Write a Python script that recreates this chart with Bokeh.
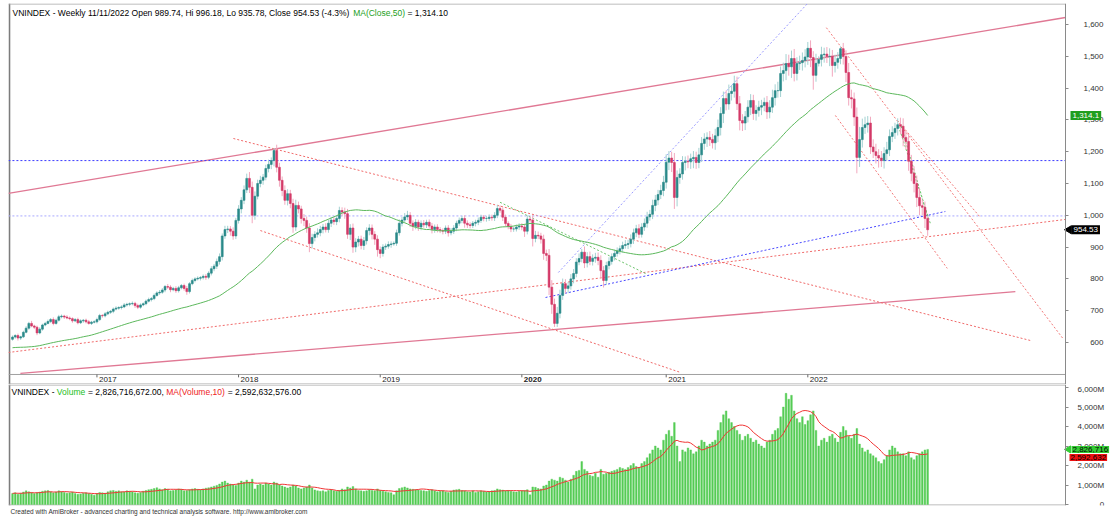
import numpy as np
import pandas as pd
from bokeh.plotting import figure
from bokeh.layouts import column
from bokeh.models import Range1d, FixedTicker, Label, ColumnDataSource, Title
from bokeh.embed import file_html
from bokeh.resources import INLINE
from bokeh.core.properties import value

FONT = "Liberation Sans"

# ---------------- DATA (weekly VNINDEX, bars end on Fridays from 2016-06-03) ----------------
pre_closes = [585, 595, 605, 620, 630, 622, 625, 610, 565, 575, 560, 560, 570, 565, 570, 580, 595,
              605, 600, 610, 600, 605, 590, 580, 565, 575, 580, 579, 560, 545, 543, 546, 550, 550,
              560, 558, 565, 562, 570, 572, 575, 585, 595, 590, 595, 592, 605, 612, 610]
pre_volumes = [520, 560, 600, 580, 540, 560, 600, 620, 580]

closes_2016 = [617, 622, 614, 618, 632, 645, 660, 652, 648, 630, 642, 655, 660, 666, 672, 660, 670, 681,
               683, 680, 677, 675, 668, 672, 662, 668, 670, 665, 660, 664, 665]
closes_2017 = [672, 685, 684, 690, 695, 698, 705, 708, 710, 712, 718, 720, 722, 723, 716, 711, 718, 722,
               730, 735, 738, 748, 756, 758, 765, 776, 774, 766, 770, 763, 772, 779, 770, 760, 785, 795,
               800, 802, 804, 808, 805, 818, 832, 840, 855, 870, 935, 955, 957, 950, 935, 984]
closes_2018 = [1020, 1047, 1080, 1116, 1088, 1000, 1060, 1100, 1110, 1120, 1147, 1160, 1172, 1204, 1151,
               1110, 1078, 1047, 1068, 1037, 963, 1031, 1020, 990, 984, 960, 911, 930, 940, 945, 955, 963,
               955, 975, 985, 980, 990, 1015, 1010, 1005, 940, 960, 900, 916, 925, 905, 920, 952, 960,
               940, 925, 892]
closes_2019 = [880, 900, 903, 908, 910, 912, 945, 975, 985, 995, 1000, 975, 965, 978, 963, 975, 970, 978,
               966, 955, 963, 955, 952, 950, 960, 945, 950, 960, 975, 984, 990, 975, 970, 968, 975, 978,
               984, 994, 990, 990, 994, 992, 1000, 1021, 1016, 994, 974, 965, 957, 957, 963, 966]
closes_2020 = [963, 950, 988, 985, 927, 937, 935, 925, 880, 874, 774, 720, 660, 692, 748, 785, 770, 778,
               800, 817, 853, 864, 884, 850, 870, 855, 865, 868, 858, 826, 795, 842, 855, 870, 880, 888,
               895, 905, 908, 911, 925, 945, 958, 940, 963, 975, 995, 1003, 1031, 1048, 1065, 1078]
closes_2021 = [1104, 1167, 1180, 1166, 1056, 1119, 1130, 1166, 1170, 1168, 1178, 1182, 1166, 1190, 1226,
               1240, 1245, 1238, 1228, 1250, 1276, 1320, 1367, 1350, 1383, 1390, 1414, 1351, 1298, 1290,
               1310, 1340, 1361, 1320, 1330, 1340, 1345, 1355, 1325, 1340, 1370, 1392, 1392, 1446, 1455,
               1477, 1467, 1493, 1446, 1477, 1480, 1487, 1498]
closes_2022 = [1525, 1496, 1440, 1478, 1490, 1505, 1507, 1499, 1500, 1471, 1481, 1493, 1524, 1499, 1449,
               1370, 1366, 1309, 1182, 1238, 1276, 1285, 1290, 1215, 1200, 1188, 1180, 1172, 1194, 1206,
               1248, 1260, 1273, 1285, 1280, 1245, 1232, 1170, 1132, 1100, 1056, 1030, 1025, 990, 954.53]

# upper / lower shadow lengths (index points) beyond the candle body
wick_hi_2016 = [5, 4, 6, 3, 5, 6, 5, 8, 4, 5, 6, 4, 5, 6, 5, 7, 5, 6, 5, 4, 6, 5, 4, 5, 6, 5, 4, 5, 6, 4, 5]
wick_lo_2016 = [4, 5, 8, 6, 4, 3, 5, 4, 6, 7, 4, 5, 4, 3, 5, 6, 4, 4, 5, 6, 4, 5, 6, 4, 5, 4, 6, 5, 4, 5, 4]
wick_hi_2017 = [6, 5, 4, 6, 5, 4, 5, 6, 4, 5, 6, 5, 4, 6, 5, 6, 5, 4, 5, 6, 5, 6, 5, 7, 6, 5, 8, 6, 5, 7,
                6, 5, 6, 8, 5, 6, 5, 6, 5, 6, 7, 6, 8, 7, 9, 10, 8, 12, 10, 9, 12, 8]
wick_lo_2017 = [5, 4, 6, 5, 4, 5, 6, 4, 5, 6, 4, 5, 6, 5, 7, 6, 5, 4, 5, 4, 6, 5, 4, 6, 5, 7, 6, 8, 5, 7,
                6, 5, 7, 10, 6, 5, 6, 5, 7, 6, 8, 6, 7, 8, 9, 10, 12, 9, 11, 14, 12, 10]
wick_hi_2018 = [12, 10, 14, 15, 20, 18, 15, 12, 14, 10, 12, 15, 10, 7, 18, 14, 12, 16, 14, 12, 15, 18, 12,
                10, 14, 12, 15, 12, 10, 14, 12, 10, 12, 11, 10, 9, 10, 12, 10, 14, 15, 12, 14, 12, 10, 11,
                12, 10, 12, 11, 10, 12]
wick_lo_2018 = [10, 14, 12, 10, 18, 25, 14, 10, 12, 14, 10, 12, 15, 18, 16, 20, 18, 14, 16, 15, 18, 12, 14,
                16, 18, 15, 27, 15, 12, 10, 11, 12, 9, 10, 12, 10, 11, 12, 13, 16, 14, 18, 18, 16, 14, 12,
                14, 12, 15, 16, 18, 22]
wick_hi_2019 = [10, 9, 8, 10, 8, 6, 10, 12, 10, 12, 14, 10, 9, 10, 8, 9, 10, 8, 9, 10, 8, 9, 8, 7, 8, 9,
                10, 9, 8, 9, 8, 10, 9, 8, 7, 8, 9, 8, 7, 8, 9, 8, 10, 12, 10, 9, 8, 7, 8, 7, 8, 9]
wick_lo_2019 = [15, 10, 9, 8, 10, 6, 8, 9, 10, 8, 10, 12, 14, 9, 12, 10, 9, 10, 8, 12, 10, 9, 8, 10, 9, 12,
                8, 9, 10, 8, 9, 14, 10, 9, 8, 10, 9, 8, 9, 10, 8, 9, 10, 9, 8, 12, 10, 9, 10, 9, 8, 9]
wick_hi_2020 = [9, 10, 12, 8, 15, 14, 12, 10, 14, 12, 20, 22, 18, 20, 18, 16, 14, 12, 15, 14, 12, 16, 10,
                18, 14, 16, 12, 14, 15, 16, 14, 12, 13, 10, 12, 11, 10, 12, 14, 12, 15, 13, 12, 14, 12, 15,
                16, 14, 18, 16, 15, 18]
wick_lo_2020 = [10, 18, 10, 8, 25, 12, 10, 14, 20, 18, 25, 30, 11, 11, 16, 14, 16, 15, 12, 14, 12, 10, 12,
                16, 14, 12, 13, 14, 15, 20, 22, 14, 12, 10, 12, 10, 11, 12, 10, 14, 12, 15, 14, 12, 10, 12,
                14, 12, 15, 18, 16, 14]
wick_hi_2021 = [20, 25, 22, 20, 30, 22, 18, 20, 15, 18, 16, 20, 18, 22, 20, 18, 16, 20, 18, 22, 25, 20, 22,
                25, 28, 20, 25, 22, 24, 20, 18, 22, 20, 18, 16, 20, 18, 15, 20, 22, 25, 20, 28, 22, 25, 30,
                28, 25, 30, 20, 22, 25, 24]
wick_lo_2021 = [18, 20, 25, 30, 36, 28, 20, 18, 25, 20, 22, 30, 20, 18, 22, 20, 25, 20, 18, 22, 20, 25, 30,
                20, 18, 22, 20, 20, 31, 25, 22, 18, 25, 20, 22, 20, 25, 18, 22, 20, 18, 25, 22, 20, 25, 30,
                28, 35, 25, 22, 20, 25, 22]
wick_hi_2022 = [20, 25, 20, 30, 10, 25, 20, 22, 25, 20, 24, 20, 7, 18, 20, 30, 25, 20, 30, 40, 28, 25, 22,
                20, 24, 25, 20, 22, 20, 25, 22, 20, 18, 20, 22, 25, 20, 24, 20, 22, 25, 30, 20, 18, 6]
wick_lo_2022 = [25, 30, 45, 20, 10, 22, 25, 20, 30, 35, 22, 20, 18, 25, 30, 25, 30, 28, 50, 30, 25, 20, 25,
                22, 20, 25, 30, 20, 25, 22, 20, 18, 20, 22, 25, 28, 25, 30, 25, 28, 30, 30, 25, 30, 19]

# weekly volume, millions of shares
vol_2016 = [560, 600, 520, 580, 640, 700, 650, 620, 560, 600, 640, 680, 700, 720, 650, 600, 640, 700, 660,
            620, 580, 600, 640, 560, 520, 540, 580, 600, 560, 520, 480]
vol_2017 = [560, 620, 600, 580, 650, 700, 720, 680, 700, 650, 640, 700, 680, 660, 600, 580, 620, 680, 720,
            760, 780, 820, 860, 800, 760, 820, 780, 700, 720, 740, 800, 780, 700, 720, 760, 800, 820, 780,
            760, 800, 840, 860, 900, 940, 980, 1050, 1150, 1200, 1100, 1050, 1000, 980]
vol_2018 = [1100, 1200, 1150, 1250, 1150, 1300, 800, 1000, 1050, 1000, 1100, 1050, 1000, 1150, 1100, 1000,
            950, 900, 850, 900, 1000, 950, 850, 800, 850, 900, 1000, 850, 750, 700, 680, 700, 650, 720, 760,
            700, 680, 720, 800, 760, 900, 850, 920, 800, 720, 700, 680, 700, 760, 720, 700, 800]
vol_2019 = [720, 680, 650, 620, 600, 500, 700, 820, 860, 900, 850, 800, 780, 760, 740, 720, 700, 680, 720,
            760, 700, 650, 680, 700, 650, 620, 680, 740, 760, 780, 720, 700, 660, 640, 700, 620, 660, 700,
            680, 640, 660, 700, 720, 800, 760, 740, 700, 720, 680, 650, 640, 680]
vol_2020 = [700, 720, 760, 500, 900, 880, 820, 800, 950, 1000, 1200, 1300, 1250, 1200, 1400, 1350, 1250,
            1150, 1300, 1500, 1700, 1750, 2200, 1800, 1700, 1500, 1450, 1600, 1400, 1800, 1550, 1600, 1650,
            1700, 1750, 1800, 1900, 1850, 1800, 1900, 2000, 2100, 1950, 1900, 2100, 2200, 2400, 2600, 2800,
            3000, 2900, 2800]
vol_2021 = [3300, 3600, 3800, 3500, 4200, 3000, 2200, 2800, 2700, 2900, 2800, 2600, 2700, 3000, 3300, 3200,
            3000, 3100, 3200, 3300, 3800, 4200, 4600, 4800, 4400, 4200, 4000, 3800, 3600, 3300, 3500, 3600,
            3400, 3200, 3300, 3100, 3000, 2900, 3200, 3300, 3600, 3800, 3900, 4500, 5000, 5700, 5400, 5600,
            4800, 4400, 4200, 4500, 4100]
vol_2022 = [4300, 4600, 4800, 3800, 3000, 3300, 3400, 3200, 3500, 3600, 3400, 3200, 3700, 4000, 3800, 3500,
            3400, 3600, 3900, 3100, 2900, 2700, 2800, 2600, 2500, 2400, 2200, 2100, 2300, 2500, 2800, 3000,
            2900, 2700, 2600, 2600, 2500, 2700, 2400, 2300, 2500, 2600, 2700, 2800, 2826.7]

price_ticks = [600, 700, 800, 900, 1000, 1100, 1200, 1300, 1400, 1500, 1600]
volume_ticks = [0, 1000, 2000, 3000, 4000, 5000, 6000]

title_price = [("VNINDEX - Weekly 11/11/2022 Open 989.74, Hi 996.18, Lo 935.78, Close 954.53 (-4.3%) ", "#000000"),
               ("MA(Close,50)", "#22a022"), (" = 1,314.10", "#000000")]
title_volume = [("VNINDEX - ", "#000000"), ("Volume", "#22c022"), (" = 2,826,716,672.00, ", "#000000"),
                ("MA(Volume,10)", "#ee2222"), (" = 2,592,632,576.00", "#000000")]
footer = "Created with AmiBroker - advanced charting and technical analysis software. http://www.amibroker.com"
ma_tag_text = "1,314.1"
close_tag_text = "954.53"
vol_tag_text = "2,826,716"
volma_tag_text = "2,592,632"

# trendlines drawn on the chart: (bar0, price0, bar1, price1, colour, dash, width)
trend_lines = [
    (-1.5, 1069, 386.6, 1622, "#e07894", "solid", 1.3),
    (2.9, 503, 368.2, 760, "#e07894", "solid", 1.3),
    (-1.5, 568.6, 386.6, 987, "#f06a6a", "2 2", 1),
    (81.1, 1241.5, 373.7, 606.3, "#f06a6a", "2 2", 1),
    (91.0, 952, 245.2, 506, "#f06a6a", "2 2", 1),
    (-1.5, 1172, 386.6, 1172, "#3a3aff", "2 2", 1),
    (-1.5, 998, 386.6, 998, "#a8a8ff", "2 2", 1),
    (195.7, 741.5, 342.5, 1012, "#4a4aff", "2 2", 1),
    (200.4, 820, 292.0, 1667, "#9a9aff", "2 2", 1),
    (298.8, 1590, 385.8, 611, "#f27a7a", "2 2", 1),
    (302.1, 1314, 343.2, 833, "#f27a7a", "2 2", 1),
    (324.9, 1298, 355.0, 997, "#f27a7a", "2 2", 1),
    (179.0, 1041, 232.4, 817, "#6cc46c", "2 2", 1),
    (325.3, 1280, 337.0, 974, "#6cc46c", "2 2", 1),
    (326.3, 1280, 336.2, 990, "#6cc46c", "2 2", 1),
]

# ---------------- derived series ----------------
closes = closes_2016 + closes_2017 + closes_2018 + closes_2019 + closes_2020 + closes_2021 + closes_2022
wick_hi = wick_hi_2016 + wick_hi_2017 + wick_hi_2018 + wick_hi_2019 + wick_hi_2020 + wick_hi_2021 + wick_hi_2022
wick_lo = wick_lo_2016 + wick_lo_2017 + wick_lo_2018 + wick_lo_2019 + wick_lo_2020 + wick_lo_2021 + wick_lo_2022
volumes = vol_2016 + vol_2017 + vol_2018 + vol_2019 + vol_2020 + vol_2021 + vol_2022
N = len(closes)

idx = np.arange(N, dtype=float)
c = np.array(closes, float)
o = np.concatenate([[pre_closes[-1]], c[:-1]])
top = np.maximum(o, c)
bot = np.minimum(o, c)
hi = top + np.array(wick_hi[:N], float)
lo = bot - np.array(wick_lo[:N], float)
ma50 = pd.Series(pre_closes + closes, dtype=float).rolling(50).mean().values[len(pre_closes):]
vol = np.array(volumes[:N], float)
ma10 = pd.Series(pre_volumes + volumes[:N], dtype=float).rolling(10).mean().values[len(pre_volumes):]

bar_end = pd.date_range("2016-06-03", periods=N, freq="W-FRI")
last_trade = bar_end - pd.Timedelta(days=1)
years = last_trade.year
year_idx = [i for i in range(1, N) if years[i] != years[i - 1]]
year_lbl = [str(years[i]) for i in year_idx]

up = c >= o
body_col = np.where(up, "#2a8a8a", "#d43a68")
wick_col = np.where(up, "#a3d1d1", "#f2a8be")

# ---------------- geometry of the panes ----------------
PX_PER_BAR = 2.7237
X0 = -1.47
AXIS_X = 386.6                      # where the value axis sits
X1 = X0 + 1109 / PX_PER_BAR          # frame runs to the right edge of the page
P_LO, P_HI = 467.9, 1666.0
STRIP_Y = 499.4                      # price level of the time-axis line
V_LO, V_HI = -51, 6154

# ---------------- text helpers ----------------
CW = {' ': 278, ',': 278, '.': 278, '-': 333, '(': 333, ')': 333, '=': 584, '%': 889, '/': 278, ':': 278,
      'A': 667, 'C': 722, 'D': 722, 'E': 667, 'H': 722, 'I': 278, 'L': 556, 'M': 833, 'N': 722, 'O': 778,
      'V': 667, 'W': 944, 'X': 667, 'a': 556, 'e': 556, 'i': 222, 'k': 500, 'l': 222, 'm': 833, 'n': 556,
      'o': 556, 'p': 556, 's': 500, 'u': 556, 'y': 500, 'h': 556, 'c': 500, 't': 278, 'r': 333, 'w': 722,
      'g': 556, 'd': 556, 'v': 500, 'f': 278, 'b': 556}


def text_w(s, size):
    return sum(CW.get(ch, 556) for ch in s) * size / 1000.0


def add_segments(p, segs, x0, y, size):
    x = x0
    for txt, col in segs:
        core = txt.strip(' ')
        x += text_w(txt[:len(txt) - len(txt.lstrip(' '))], size)
        p.add_layout(Label(x=x, y=y, x_units="screen", y_units="screen", text=core, text_color=col,
                           text_font=FONT, text_font_size=f"{size}px", text_baseline="middle"))
        x += text_w(core, size) + text_w(txt[len(txt.rstrip(' ')):], size)


def style_axis(a, ticks, overrides, standoff):
    a.ticker = FixedTicker(ticks=ticks)
    a.major_label_overrides = overrides
    a.fixed_location = AXIS_X
    a.major_tick_out = 3
    a.major_tick_in = 0
    a.minor_tick_out = 0
    a.minor_tick_in = 0
    a.major_label_standoff = standoff
    a.axis_line_color = "#8a8a8a"
    a.major_tick_line_color = "#8a8a8a"
    a.major_label_text_font = FONT
    a.major_label_text_font_size = "8px"
    a.major_label_text_color = "#333333"


def pane_border(p, ylo, yhi, dy):
    bx = X0 + 0.9 / PX_PER_BAR
    p.line([bx, bx], [ylo, yhi], line_color="#7c7c7c", line_width=1.8)
    p.line([X0, AXIS_X], [yhi - dy, yhi - dy], line_color="#a8a8a8", line_width=1)
    p.line([X0, AXIS_X], [ylo + dy, ylo + dy], line_color="#a8a8a8", line_width=1)


FS, PS = "\u2007", "\u2008"
TITLE_PX = 8.5

# ---------------- price pane ----------------
X_RANGE = Range1d(X0, X1)
p1 = figure(width=1117, height=384, x_range=X_RANGE, y_range=Range1d(P_LO, P_HI),
            output_backend="svg", toolbar_location=None, x_axis_location=None, y_axis_location="right",
            min_border_left=8, min_border_right=0, min_border_top=3, min_border_bottom=0)
p1.grid.visible = False
p1.outline_line_color = None
p1.background_fill_color = "white"
p1.border_fill_color = "white"
style_axis(p1.yaxis[0], price_ticks,
           {t: (f"{t:,}" if t >= 1000 else FS + PS + str(t)) for t in price_ticks}, 15)
pane_border(p1, P_LO, P_HI, 0.5 / 0.318)

# time-axis strip line
p1.line([X0, AXIS_X], [STRIP_Y, STRIP_Y], line_color="#a0a0a0", line_width=1)

for x0, y0, x1, y1, col, dash, w in trend_lines:
    p1.line([x0, x1], [y0, y1], line_color=col, line_dash=dash, line_width=w)

src = ColumnDataSource(dict(x=idx, top=top, bot=bot, hi=hi, lo=lo, bc=body_col, wc=wick_col))
p1.segment(x0="x", x1="x", y0="hi", y1="lo", line_color="wc", line_width=1, source=src)
p1.vbar(x="x", width=0.7, top="top", bottom="bot", fill_color="bc", line_color="bc", line_width=0.6, source=src)
p1.line(idx, ma50, line_color="#5cb85c", line_width=1)

# year ticks in the time strip
p1.segment(x0=year_idx, x1=year_idx, y0=[STRIP_Y] * len(year_idx), y1=[STRIP_Y - 9] * len(year_idx),
           line_color="#666666", line_width=1)
bold = [l == "2020" for l in year_lbl]
p1.text(x=[i for i, b in zip(year_idx, bold) if not b], y=[483.6] * (len(year_idx) - sum(bold)),
        text=[l for l, b in zip(year_lbl, bold) if not b], x_offset=2, text_baseline="middle",
        text_font=value(FONT), text_font_size="8px", text_color="#222222")
p1.text(x=[i for i, b in zip(year_idx, bold) if b], y=[483.6] * sum(bold),
        text=[l for l, b in zip(year_lbl, bold) if b], x_offset=2, text_baseline="middle",
        text_font=value(FONT), text_font_size="8px", text_color="#222222", text_font_style="bold")

add_segments(p1, title_price, 4, 372, TITLE_PX)

# value tags on the axis
p1.add_layout(Label(x=1062, y=ma50[-1], x_units="screen", y_units="data", text=ma_tag_text,
                    text_color="white", text_font=FONT, text_font_size="8px", text_baseline="middle",
                    background_fill_color="#1f9e1f", padding=2))
p1.scatter(x=[AXIS_X + 1.3], y=[c[-1]], marker="triangle", angle=np.pi / 2, size=8,
           fill_color="black", line_color="black")
p1.add_layout(Label(x=1063, y=c[-1], x_units="screen", y_units="data", text=close_tag_text,
                    text_color="white", text_font=FONT, text_font_size="8px", text_baseline="middle",
                    background_fill_color="#000000", padding=2))

# ---------------- volume pane ----------------
p2 = figure(width=1117, height=133, x_range=X_RANGE, y_range=Range1d(V_LO, V_HI),
            output_backend="svg", toolbar_location=None, x_axis_location=None, y_axis_location="right",
            min_border_left=8, min_border_right=0, min_border_top=0, min_border_bottom=12)
p2.grid.visible = False
p2.outline_line_color = None
p2.border_fill_color = "white"
style_axis(p2.yaxis[0], volume_ticks,
           {t: (f"{t:,}M" if t > 0 else FS * 5 + "0") for t in volume_ticks}, 9)
pane_border(p2, V_LO, V_HI, 0.5 / 0.0195)

p2.vbar(x=idx, top=vol, bottom=0, width=0.62, fill_color="#55cc55", line_color="#55cc55", line_width=0.4)
p2.line(idx, ma10, line_color="#f03535", line_width=1)

add_segments(p2, title_volume, 3, 114, TITLE_PX)
p2.add_layout(Title(text=footer, align="left", offset=2, standoff=0, text_font=FONT, text_font_size="6.5px",
                    text_font_style="normal", text_color="#333333"), "below")

p2.scatter(x=[AXIS_X + 1.1], y=[vol[-1]], marker="triangle", angle=np.pi / 2, size=7,
           fill_color="#33cc33", line_color="#33cc33")
p2.add_layout(Label(x=1063, y=vol[-1], x_units="screen", y_units="data", text=vol_tag_text,
                    text_color="black", text_font=FONT, text_font_size="8px", text_baseline="middle",
                    background_fill_color="#33cc33", padding=1))
p2.add_layout(Label(x=1061, y=ma10[-1], x_units="screen", y_units="data", text=volma_tag_text,
                    text_color="black", text_font=FONT, text_font_size="8px", text_baseline="top",
                    background_fill_color="#ee1111", padding=1))

layout = column(p1, p2, spacing=0)
open("out.html", "w").write(file_html(layout, INLINE))
